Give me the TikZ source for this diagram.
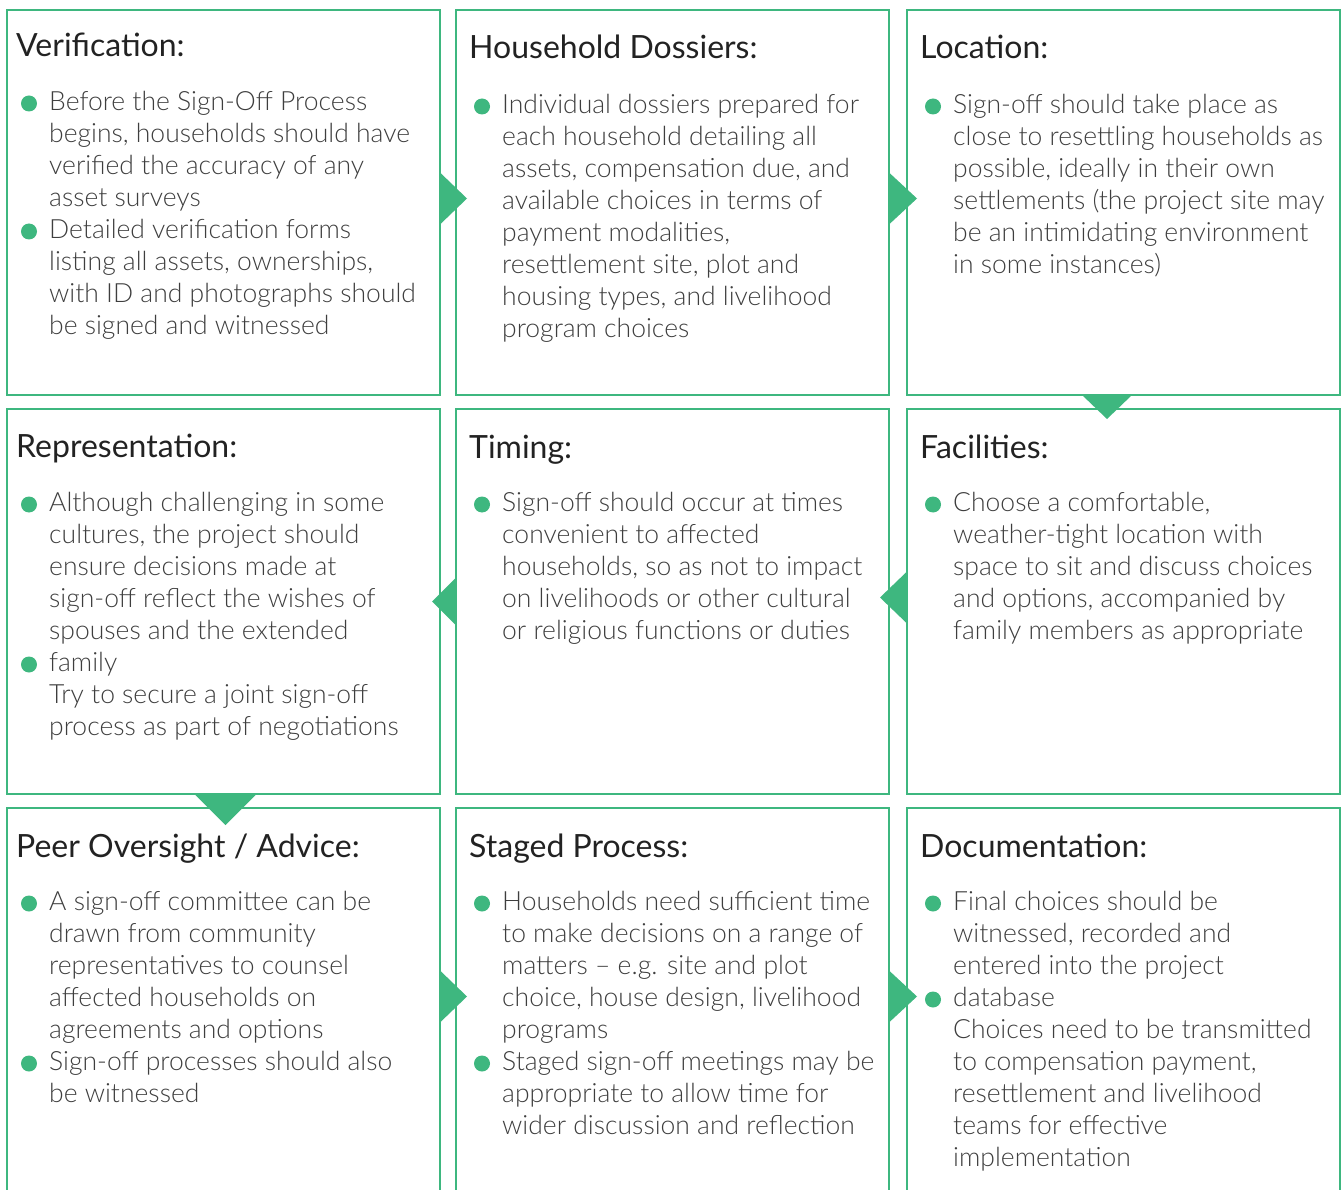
\documentclass[tikz,border=0pt]{standalone}
\usepackage{fontspec}
\IfFontExistsTF{Lato Light}{\setmainfont{Lato Light}}{\setmainfont{Lato}}
\newfontfamily\headfont{Lato}
\usetikzlibrary{positioning}
\definecolor{leaf}{RGB}{62,183,127}
\definecolor{ink}{RGB}{34,34,34}
\definecolor{greytext}{RGB}{62,62,62}

\begin{document}
\begin{tikzpicture}[
    panel/.style={rectangle, draw=leaf, line width=2.5pt, minimum width=433pt, minimum height=385pt, inner sep=0pt, outer sep=0pt},
    heading/.style={anchor=base west, inner sep=0pt, text=ink, font=\headfont\fontsize{32}{38}\selectfont},
    bodytext/.style={anchor=north west, inner sep=0pt, align=left, text=greytext, font=\fontsize{26.5}{32}\selectfont},
    pointer/.style={fill=leaf, draw=none}
]
\useasboundingbox (0,0) rectangle (1342pt,-1190pt);

% Row 1
\node[panel, anchor=north west] (verif) at (7pt,-10pt) {};
\node[panel, right=16pt of verif] (dossier) {};
\node[panel, right=18pt of dossier] (location) {};

% Row 2
\node[panel, below=14pt of verif] (repr) {};
\node[panel, right=16pt of repr] (timing) {};
\node[panel, right=18pt of timing] (facility) {};

% Row 3
\node[panel, below=14pt of repr] (peer) {};
\node[panel, right=16pt of peer] (staged) {};
\node[panel, right=18pt of staged] (docu) {};

% Headings
\node[heading] (verif-t) at ([xshift=9pt,yshift=-47pt]verif.north west) {Verification:};
\node[heading] (dossier-t) at ([xshift=13pt,yshift=-49pt]dossier.north west) {Household Dossiers:};
\node[heading] (location-t) at ([xshift=13pt,yshift=-49pt]location.north west) {Location:};
\node[heading] (repr-t) at ([xshift=9pt,yshift=-48pt]repr.north west) {Representation:};
\node[heading] (timing-t) at ([xshift=13pt,yshift=-49pt]timing.north west) {Timing:};
\node[heading] (facility-t) at ([xshift=13pt,yshift=-49pt]facility.north west) {Facilities:};
\node[heading] (peer-t) at ([xshift=9pt,yshift=-49pt]peer.north west) {Peer Oversight / Advice:};
\node[heading] (staged-t) at ([xshift=13pt,yshift=-49pt]staged.north west) {Staged Process:};
\node[heading] (docu-t) at ([xshift=13pt,yshift=-49pt]docu.north west) {Documentation:};

% Bullet texts
\node[bodytext] (verif-b) at ([xshift=42pt,yshift=-78pt]verif.north west)
  {\strut Before the Sign-Off Process\\begins, households should have\\verified the accuracy of any\\asset surveys\\Detailed verification forms\\listing all assets, ownerships,\\with ID and photographs should\\be signed and witnessed};
\node[bodytext] (dossier-b) at ([xshift=46pt,yshift=-81pt]dossier.north west)
  {\strut Individual dossiers prepared for\\each household detailing all\\assets, compensation due, and\\available choices in terms of\\payment modalities,\\resettlement site, plot and\\housing types, and livelihood\\program choices};
\node[bodytext] (location-b) at ([xshift=46pt,yshift=-81pt]location.north west)
  {\strut Sign-off should take place as\\close to resettling households as\\possible, ideally in their own\\settlements (the project site may\\be an intimidating environment\\in some instances)};
\node[bodytext] (repr-b) at ([xshift=42pt,yshift=-80pt]repr.north west)
  {\strut Although challenging in some\\cultures, the project should\\ensure decisions made at\\sign-off reflect the wishes of\\spouses and the extended\\family\\Try to secure a joint sign-off\\process as part of negotiations};
\node[bodytext] (timing-b) at ([xshift=46pt,yshift=-80pt]timing.north west)
  {\strut Sign-off should occur at times\\convenient to affected\\households, so as not to impact\\on livelihoods or other cultural\\or religious functions or duties};
\node[bodytext] (facility-b) at ([xshift=46pt,yshift=-80pt]facility.north west)
  {\strut Choose a comfortable,\\weather-tight location with\\space to sit and discuss choices\\and options, accompanied by\\family members as appropriate};
\node[bodytext] (peer-b) at ([xshift=42pt,yshift=-80pt]peer.north west)
  {\strut A sign-off committee can be\\drawn from community\\representatives to counsel\\affected households on\\agreements and options\\Sign-off processes should also\\be witnessed};
\node[bodytext] (staged-b) at ([xshift=46pt,yshift=-80pt]staged.north west)
  {\strut Households need sufficient time\\to make decisions on a range of\\matters -- e.g. site and plot\\choice, house design, livelihood\\programs\\Staged sign-off meetings may be\\appropriate to allow time for\\wider discussion and reflection};
\node[bodytext] (docu-b) at ([xshift=46pt,yshift=-80pt]docu.north west)
  {\strut Final choices should be\\witnessed, recorded and\\entered into the project\\database\\Choices need to be transmitted\\to compensation payment,\\resettlement and livelihood\\teams for effective\\implementation};

% Bullets (line numbers from the top)
\foreach \b/\k in {verif-b/0, verif-b/4, dossier-b/0, location-b/0, repr-b/0, repr-b/5,
                   timing-b/0, facility-b/0, peer-b/0, peer-b/5, staged-b/0, staged-b/5,
                   docu-b/0, docu-b/3}
  \fill[leaf] ([xshift=-20pt,yshift=-15.5pt-\k*32pt]\b.north west) circle (8pt);

% Arrows
\fill[pointer] ([yshift=30pt]verif.east) -- ++(27pt,-26pt) -- ++(-27pt,-26pt) -- cycle;
\fill[pointer] ([yshift=30pt]dossier.east) -- ++(28pt,-26pt) -- ++(-28pt,-26pt) -- cycle;
\fill[pointer] ([xshift=-41.5pt]location.south) -- ++(25pt,-24pt) -- ++(25pt,24pt) -- cycle;
\fill[pointer] ([yshift=30pt]facility.west) -- ++(-27pt,-26pt) -- ++(27pt,-26pt) -- cycle;
\fill[pointer] ([yshift=24pt]timing.west) -- ++(-24pt,-24pt) -- ++(24pt,-24pt) -- cycle;
\fill[pointer] ([xshift=-29pt]repr.south) -- ++(31pt,-31pt) -- ++(31pt,31pt) -- cycle;
\fill[pointer] ([yshift=30pt]peer.east) -- ++(27pt,-26pt) -- ++(-27pt,-26pt) -- cycle;
\fill[pointer] ([yshift=30pt]staged.east) -- ++(28pt,-26pt) -- ++(-28pt,-26pt) -- cycle;

\end{tikzpicture}
\end{document}
